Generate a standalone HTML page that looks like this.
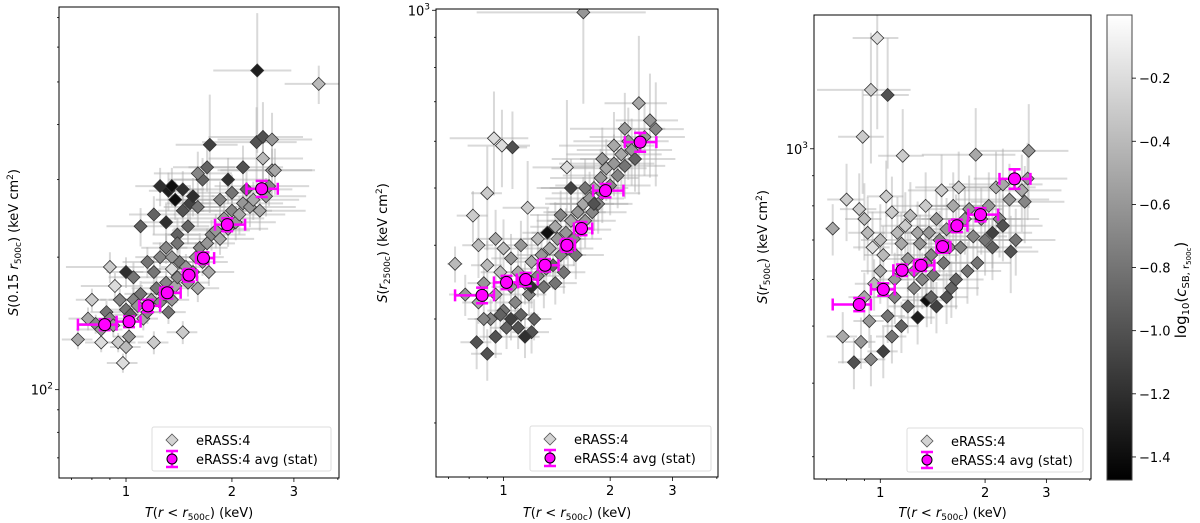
<!DOCTYPE html>
<html><head><meta charset="utf-8"><style>
html,body{margin:0;padding:0;background:#fff}
svg{display:block;font-family:"DejaVu Sans","Liberation Sans",sans-serif}
</style></head><body>
<svg id="chart" width="1200" height="523" viewBox="0 0 1200 523" xmlns="http://www.w3.org/2000/svg"></svg>
<script>
// ---- data ----
const binT = [0.87,1.02,1.155,1.31,1.51,1.66,1.94,2.43];
const binTlo = [0.73,0.94,1.09,1.25,1.45,1.58,1.79,2.2];
const binThi = [0.94,1.10,1.25,1.43,1.59,1.78,2.18,2.7];
const avg1 = [140.5,142.7,155,166,182,199,237,286];
const avg1err = [4,4,5,5,6,6,8,12];
const avg2 = [329,346,350,370,400,427,495,598];
const avg2err = [10,9,9,9,10,11,13,22];
const avg3 = [544,577,622,634,682,740,773,889];
const avg3err = [14,14,14,14,16,18,20,34];
// scatter points: [T, S, log10 cSB, fractional xerr, fractional yerr]
const pts1 = [[0.73,130,-0.5,.1,.05],[0.78,145,-0.5,.12,.06],[0.82,141,-0.7,.1,.05],[0.85,137,-0.6,.15,.06],[0.88,150,-0.8,.1,.06],[0.9,145,-0.7,.12,.05],[0.92,140,-0.6,.1,.06],[0.95,128,-0.3,.12,.05],[0.98,115,-0.2,.1,.05],[1.0,125,-0.4,.1,.06],[1.02,132,-0.6,.1,.06],[0.85,128,-0.2,.1,.05],[0.8,160,-0.3,.1,.06],[0.93,172,-0.2,.2,.07],[0.96,160,-0.7,.12,.06],[1.0,152,-0.8,.1,.06],[1.03,148,-0.9,.1,.06],[1.05,160,-0.7,.15,.06],[1.08,155,-0.6,.12,.06],[1.1,165,-0.8,.1,.07],[1.12,145,-0.5,.1,.06],[1.15,150,-0.7,.12,.06],[1.18,160,-0.6,.15,.06],[1.2,128,-0.3,.1,.06],[1.22,170,-0.8,.15,.07],[1.25,158,-0.7,.12,.06],[1.28,165,-0.6,.12,.06],[1.3,175,-0.7,.15,.07],[1.32,150,-0.8,.12,.06],[1.35,160,-0.6,.12,.06],[1.38,172,-0.5,.15,.07],[1.4,180,-0.7,.15,.07],[1.45,135,-0.3,.1,.06],[1.42,195,-0.8,.18,.08],[1.48,190,-0.6,.15,.07],[1.5,175,-0.6,.15,.07],[1.55,185,-0.7,.15,.07],[1.58,200,-0.6,.2,.08],[1.6,170,-0.5,.15,.07],[1.62,210,-0.7,.2,.08],[1.65,195,-0.6,.18,.07],[1.7,215,-0.6,.2,.08],[1.72,185,-0.5,.18,.07],[1.75,225,-0.7,.25,.08],[1.8,230,-0.6,.25,.09],[1.85,220,-0.5,.25,.08],[1.9,245,-0.6,.3,.09],[1.95,232,-0.5,.3,.09],[2.0,255,-0.7,.3,.1],[2.05,240,-0.6,.3,.09],[2.1,250,-0.5,.35,.1],[2.15,265,-0.6,.3,.1],[2.2,285,-0.9,.35,.1],[2.25,260,-0.6,.35,.1],[2.3,270,-0.5,.35,.1],[2.4,255,-0.5,.35,.1],[2.5,275,-0.6,.3,.1],[2.55,290,-0.7,.3,.1],[2.6,315,-0.6,.3,.12],[2.45,335,-0.4,.3,.12],[2.65,315,-0.5,.3,.12],[1.2,250,-0.9,.15,.1],[1.25,290,-1.2,.15,.1],[1.32,283,-1.3,.12,.1],[1.38,270,-1.4,.12,.1],[1.35,290,-1.4,.12,.1],[1.45,285,-1.2,.15,.1],[1.52,265,-1.1,.15,.1],[1.55,275,-1.2,.15,.1],[1.3,240,-1.2,.15,.1],[1.1,235,-0.9,.2,.1],[1.45,255,-1.0,.15,.1],[1.4,225,-0.9,.15,.09],[1.5,235,-0.9,.15,.09],[1.6,260,-0.8,.2,.1],[1.65,300,-0.9,.2,.12],[1.7,320,-0.9,.2,.12],[1.6,310,-0.7,.25,.12],[1.85,270,-0.7,.25,.1],[2.0,280,-0.8,.3,.1],[2.15,320,-1.0,.3,.12],[1.95,300,-1.2,.3,.12],[1.73,360,-1.1,.2,.3],[2.36,531,-1.3,.25,.35],[3.53,495,-0.4,.2,.1],[2.35,365,-1.0,.3,.2],[2.45,375,-1.0,.3,.2],[2.6,370,-0.6,.3,.15],[1.0,185,-1.2,.12,.08],[0.9,190,-0.3,.25,.08],[1.05,180,-0.8,.15,.08],[1.15,195,-0.8,.15,.08],[1.25,200,-0.7,.15,.08],[1.2,185,-0.8,.15,.08],[1.3,210,-0.7,.15,.08],[1.35,200,-0.6,.15,.08],[1.4,215,-0.8,.15,.08],[1.35,188,-0.2,.15,.08]];
const pts2 = [[1.68,992,-0.6,.5,.3],[0.94,607,-0.2,.25,.2],[0.99,590,-0.2,.2,.15],[1.06,586,-1.0,.1,.15],[0.9,490,-0.3,.1,.2],[0.82,449,-0.3,.1,.1],[0.73,372,-0.4,.05,.07],[0.84,274,-1.0,.1,.1],[0.9,262,-1.0,.1,.1],[2.41,696,-0.5,.2,.3],[2.59,651,-0.6,.2,.2],[2.69,629,-0.7,.2,.2],[1.51,542,-0.2,.2,.3],[1.17,463,-0.3,.15,.2],[0.78,330,-0.6,.1,.08],[0.85,320,-0.5,.1,.08],[0.88,345,-0.6,.1,.08],[0.92,300,-0.7,.1,.08],[0.95,330,-0.5,.1,.08],[0.98,360,-0.4,.12,.1],[1.0,310,-0.8,.1,.08],[1.02,290,-0.9,.1,.08],[1.05,340,-0.6,.12,.08],[1.08,320,-0.7,.12,.08],[1.1,360,-0.5,.12,.1],[1.12,305,-0.9,.12,.08],[1.15,345,-0.6,.12,.08],[1.18,330,-0.7,.12,.08],[1.2,375,-0.5,.15,.1],[1.22,300,-0.9,.12,.08],[1.25,355,-0.7,.15,.08],[1.28,385,-0.6,.15,.1],[1.3,340,-0.8,.15,.08],[1.32,365,-0.7,.15,.08],[1.35,395,-0.5,.15,.1],[1.38,370,-0.9,.15,.09],[1.4,345,-0.8,.15,.08],[1.42,410,-0.6,.2,.1],[1.45,385,-0.7,.18,.09],[1.48,360,-0.8,.15,.08],[1.5,420,-0.6,.2,.1],[1.52,395,-0.7,.18,.09],[1.55,440,-0.5,.2,.1],[1.58,410,-0.7,.2,.1],[1.6,385,-0.8,.2,.09],[1.62,455,-0.6,.2,.1],[1.65,425,-0.7,.22,.1],[1.68,470,-0.5,.22,.11],[1.7,440,-0.6,.22,.1],[1.75,480,-0.6,.25,.11],[1.78,455,-0.7,.25,.1],[1.8,500,-0.5,.25,.12],[1.85,470,-0.7,.25,.11],[1.88,520,-0.6,.28,.12],[1.9,490,-0.7,.28,.11],[1.95,540,-0.5,.3,.12],[2.0,505,-0.7,.3,.11],[2.05,550,-0.6,.3,.12],[2.1,525,-0.7,.3,.12],[2.15,570,-0.5,.3,.13],[2.2,545,-0.8,.3,.12],[2.25,600,-0.6,.3,.14],[2.3,580,-0.6,.3,.13],[2.35,560,-0.9,.3,.12],[2.5,610,-0.6,.3,.14],[1.55,500,-1.1,.2,.12],[1.8,470,-1.0,.25,.1],[1.33,420,-1.4,.15,.1],[1.2,340,-1.2,.12,.08],[1.05,300,-1.1,.1,.08],[0.95,280,-1.0,.1,.08],[0.98,305,-0.9,.1,.08],[1.1,290,-1.0,.1,.08],[1.2,285,-1.0,.12,.08],[1.15,280,-1.2,.1,.08],[0.88,300,-0.7,.1,.08],[0.9,370,-0.4,.1,.1],[0.85,400,-0.4,.1,.12],[0.95,410,-0.5,.12,.12],[1.0,395,-0.4,.12,.12],[1.05,380,-0.6,.12,.1],[1.12,400,-0.6,.12,.1],[1.25,410,-0.4,.15,.1],[1.4,430,-0.5,.15,.1],[1.45,450,-0.7,.18,.1],[1.7,500,-0.8,.25,.12],[1.9,560,-0.6,.28,.13],[2.05,590,-0.5,.3,.14],[2.2,630,-0.6,.3,.15]];
const pts3 = [[0.98,1542,-0.2,.15,.3],[0.94,1259,-0.3,.3,.25],[1.05,1234,-1.0,.15,.25],[0.89,1048,-0.3,.15,.2],[0.73,732,-0.5,.05,.1],[1.16,973,-0.3,.15,.2],[1.88,977,-0.5,.3,.2],[2.67,992,-0.6,.3,.2],[0.84,434,-1.0,.1,.1],[0.94,439,-0.7,.1,.1],[1.02,453,-1.1,.1,.1],[1.36,553,-1.4,.15,.1],[1.28,517,-1.3,.12,.1],[2.37,669,-1.0,.2,.15],[2.6,813,-0.7,.3,.15],[0.8,820,-0.3,.12,.15],[0.87,790,-0.3,.12,.15],[0.9,760,-0.4,.12,.15],[0.92,720,-0.4,.12,.15],[0.95,680,-0.2,.12,.15],[1.0,700,-0.4,.12,.15],[1.02,660,-0.4,.12,.12],[1.04,830,-0.3,.12,.15],[1.08,780,-0.3,.15,.15],[1.12,720,-0.4,.15,.15],[1.15,690,-0.5,.15,.13],[1.18,740,-0.3,.15,.14],[1.2,650,-0.6,.15,.12],[1.22,770,-0.4,.15,.14],[1.25,620,-0.6,.15,.12],[1.28,720,-0.5,.15,.13],[1.3,690,-0.6,.15,.12],[1.32,600,-0.7,.15,.11],[1.35,800,-0.3,.2,.14],[1.38,720,-0.6,.2,.13],[1.4,660,-0.7,.2,.12],[1.42,610,-0.8,.2,.11],[1.45,760,-0.6,.2,.13],[1.48,700,-0.7,.2,.12],[1.5,850,-0.3,.2,.15],[1.52,640,-0.8,.2,.11],[1.55,730,-0.6,.2,.13],[1.58,680,-0.7,.2,.12],[1.6,580,-0.9,.2,.11],[1.62,800,-0.5,.22,.14],[1.65,740,-0.7,.22,.13],[1.68,860,-0.3,.25,.15],[1.7,680,-0.7,.22,.12],[1.75,760,-0.6,.25,.13],[1.78,620,-0.8,.25,.12],[1.8,790,-0.6,.25,.14],[1.85,710,-0.7,.25,.13],[1.9,640,-0.8,.25,.12],[1.95,760,-0.6,.3,.13],[2.0,700,-0.8,.3,.13],[2.05,800,-0.6,.3,.14],[2.1,680,-0.9,.3,.12],[2.15,860,-0.5,.3,.15],[2.2,760,-0.7,.3,.14],[2.25,870,-0.5,.3,.15],[2.35,820,-0.6,.3,.15],[2.45,700,-0.8,.3,.13],[2.55,850,-0.5,.3,.15],[2.65,890,-0.6,.3,.15],[1.1,560,-0.7,.12,.1],[1.15,500,-0.9,.12,.1],[1.2,540,-0.9,.12,.1],[1.05,520,-0.8,.12,.1],[0.9,560,-0.5,.1,.1],[0.96,590,-0.4,.12,.1],[1.0,620,-0.5,.12,.12],[1.1,600,-0.6,.12,.11],[1.4,560,-0.9,.15,.1],[1.45,540,-1.1,.15,.1],[1.55,560,-1.0,.15,.1],[1.65,600,-0.9,.2,.11],[1.25,580,-0.7,.15,.11],[1.35,640,-0.6,.15,.12],[0.78,480,-0.5,.1,.1],[0.88,470,-0.6,.1,.1],[0.93,510,-0.6,.1,.1],[1.08,480,-0.8,.1,.1],[2.25,740,-1.0,.3,.13],[2.1,720,-1.1,.3,.13]];
const cbTicks = [-0.2,-0.4,-0.6,-0.8,-1.0,-1.2,-1.4];

// ---- helpers ----
const NS='http://www.w3.org/2000/svg';
const svg=document.getElementById('chart');
function mk(tag,attrs,parent){const e=document.createElementNS(NS,tag);for(const k in attrs)e.setAttribute(k,attrs[k]);(parent||svg).appendChild(e);return e;}
const CMIN=-1.473,CMAX=0;
function gray(c){let t=(c-CMIN)/(CMAX-CMIN);t=Math.max(0,Math.min(1,t));const v=Math.round(t*255);return `rgb(${v},${v},${v})`;}

const panels=[
 {id:'p1',x0:59,x1:339,y0:7,y1:478,tmin:0.645,tmax:4.03,smin:63,smax:740,pts:pts1,avg:avg1,aerr:avg1err,
  ytitle:'S(0.15 r500c)',ytx:18,majorY:[100],leg:[152,427,179,44]},
 {id:'p2',x0:436,x1:718,y0:9,y1:477,tmin:0.645,tmax:4.03,smin:162,smax:1005,pts:pts2,avg:avg2,aerr:avg2err,
  ytitle:'S(r2500c)',ytx:387,majorY:[1000],leg:[530,426,181,45]},
 {id:'p3',x0:814,x1:1091,y0:15,y1:479,tmin:0.645,tmax:4.03,smin:275,smax:1687,pts:pts3,avg:avg3,aerr:avg3err,
  ytitle:'S(r500c)',ytx:767,majorY:[1000],leg:[907,428,176,44]}
];

panels.forEach((P,pi)=>{
  const g=mk('g',{});
  
  
  const lx=Math.log10;
  const X=t=>P.x0+(lx(t)-lx(P.tmin))/(lx(P.tmax)-lx(P.tmin))*(P.x1-P.x0);
  const Y=s=>P.y1-(lx(s)-lx(P.smin))/(lx(P.smax)-lx(P.smin))*(P.y1-P.y0);
  const clip=mk('clipPath',{id:'clip'+pi},g);
  mk('rect',{x:P.x0,y:P.y0,width:P.x1-P.x0,height:P.y1-P.y0},clip);
  const data=mk('g',{'clip-path':`url(#clip${pi})`},g);
  // error bars
  const eg=mk('g',{stroke:'rgb(170,170,170)','stroke-opacity':0.45,'stroke-width':2},data);
  
  
  P.pts.forEach(p=>{
    const cx=X(p[0]),cy=Y(p[1]);
    mk('line',{x1:X(p[0]*(1-p[3])),x2:X(p[0]*(1+p[3])),y1:cy,y2:cy},eg);
    mk('line',{x1:cx,x2:cx,y1:Y(p[1]*(1-p[4])),y2:Y(p[1]*(1+p[4]))},eg);
  });
  // diamonds
  P.pts.forEach(p=>{
    const cx=X(p[0]),cy=Y(p[1]),r=6.5;
    const d=mk('polygon',{points:`${cx},${cy-r} ${cx+r},${cy} ${cx},${cy+r} ${cx-r},${cy}`,fill:gray(p[2]),stroke:'#333','stroke-width':0.8},data);
    
    
  });
  // averages
  binT.forEach((t,i)=>{
    const s=P.avg[i],e=P.aerr[i];
    const cx=X(t),cy=Y(s);
    const ag=mk('g',{stroke:'#ff00ff','stroke-width':2.5},data);
    
    
    const xl=X(binTlo[i]),xh=X(binThi[i]),yl=Y(s-e),yh=Y(s+e);
    mk('line',{x1:xl,x2:xh,y1:cy,y2:cy},ag);
    mk('line',{x1:xl,x2:xl,y1:cy-6,y2:cy+6},ag);
    mk('line',{x1:xh,x2:xh,y1:cy-6,y2:cy+6},ag);
    mk('line',{x1:cx,x2:cx,y1:yl,y2:yh},ag);
    mk('line',{x1:cx-6,x2:cx+6,y1:yl,y2:yl},ag);
    mk('line',{x1:cx-6,x2:cx+6,y1:yh,y2:yh},ag);
    mk('circle',{cx:cx,cy:cy,r:6,fill:'#ff00ff',stroke:'#000','stroke-width':1},ag);
  });
  // axes frame
  const fr=mk('rect',{x:P.x0,y:P.y0,width:P.x1-P.x0,height:P.y1-P.y0,fill:'none',stroke:'#000','stroke-width':1},g);
  
  
  // x ticks
  [0.7,0.8,0.9,1,2,3,4].forEach(t=>{
    const x=X(t); if(x<P.x0||x>P.x1) return;
    const major=[1,2,3].includes(t);
    mk('line',{x1:x,x2:x,y1:P.y1,y2:P.y1+(major?4:2),stroke:'#000','stroke-width':0.8},g);
    if(major){const tx=mk('text',{x:x,y:P.y1+18,'text-anchor':'middle','font-size':13},g);tx.textContent=t;
      }
  });
  // y minor ticks
  for(let dec=10;dec<=1000;dec*=10){for(let m=1;m<10;m++){const s=m*dec;const y=Y(s);if(y<P.y0-0.5||y>P.y1)continue;
    const major=P.majorY.includes(s);
    mk('line',{x1:P.x0,x2:P.x0-(major?4:2),y1:y,y2:y,stroke:'#000','stroke-width':0.8},g);
    if(major){const tx=mk('text',{x:P.x0-6,y:y+5,'text-anchor':'end','font-size':13},g);
      
      tx.innerHTML=`10<tspan dy="-6" font-size="9">${Math.round(Math.log10(s))}</tspan>`;}
  }}
  // x title
  const xt=mk('text',{x:(P.x0+P.x1)/2,y:517,'text-anchor':'middle','font-size':13},g);
  
  xt.innerHTML='<tspan font-style="italic">T</tspan>(<tspan font-style="italic">r</tspan> &lt; <tspan font-style="italic">r</tspan><tspan font-size="9" dy="3">500c</tspan><tspan dy="-3">) (keV)</tspan>';
  // y title
  const cy=(P.y0+P.y1)/2;
  const yt=mk('text',{x:P.ytx,y:cy,'text-anchor':'middle','font-size':13,transform:`rotate(-90 ${P.ytx} ${cy})`},g);
  
  const sub={0:'<tspan font-style="italic">S</tspan>(0.15 <tspan font-style="italic">r</tspan><tspan font-size="9" dy="3">500c</tspan><tspan dy="-3">)</tspan>',
             1:'<tspan font-style="italic">S</tspan>(<tspan font-style="italic">r</tspan><tspan font-size="9" dy="3">2500c</tspan><tspan dy="-3">)</tspan>',
             2:'<tspan font-style="italic">S</tspan>(<tspan font-style="italic">r</tspan><tspan font-size="9" dy="3">500c</tspan><tspan dy="-3">)</tspan>'}[pi];
  yt.innerHTML=sub+' (keV cm<tspan font-size="9" dy="-5">2</tspan><tspan dy="5">)</tspan>';
  // legend
  const [lx0,ly0,lw,lh]=P.leg;
  const lg=mk('g',{},g);
  
  mk('rect',{x:lx0,y:ly0,width:lw,height:lh,fill:'#fff','fill-opacity':0.85,stroke:'#ddd',rx:2},lg);
  const mx=lx0+20,r1=ly0+13,r2=ly0+32;
  mk('polygon',{points:`${mx},${r1-6} ${mx+6},${r1} ${mx},${r1+6} ${mx-6},${r1}`,fill:'#d3d3d3',stroke:'#555','stroke-width':0.8},lg);
  const t1=mk('text',{x:lx0+44,y:r1+5,'font-size':13},lg);t1.textContent='eRASS:4';
  
  mk('line',{x1:mx,x2:mx,y1:r2-8,y2:r2+8,stroke:'#ff00ff','stroke-width':2.5},lg);
  mk('line',{x1:mx-6,x2:mx+6,y1:r2-8,y2:r2-8,stroke:'#ff00ff','stroke-width':2.5},lg);
  mk('line',{x1:mx-6,x2:mx+6,y1:r2+8,y2:r2+8,stroke:'#ff00ff','stroke-width':2.5},lg);
  mk('circle',{cx:mx,cy:r2,r:5,fill:'#ff00ff',stroke:'#000'},lg);
  const t2=mk('text',{x:lx0+44,y:r2+5,'font-size':13},lg);t2.textContent='eRASS:4 avg (stat)';
  
});

// colorbar
const cb={x:1107,w:25,y0:15,y1:480};
const defs=mk('defs',{});
const grad=mk('linearGradient',{id:'cbg',x1:0,y1:1,x2:0,y2:0},defs);
mk('stop',{offset:0,'stop-color':'#000'},grad);mk('stop',{offset:1,'stop-color':'#fff'},grad);
const cbr=mk('rect',{x:cb.x,y:cb.y0,width:cb.w,height:cb.y1-cb.y0,fill:'url(#cbg)',stroke:'#444','stroke-width':1});


const CY=c=>cb.y1-(c-CMIN)/(CMAX-CMIN)*(cb.y1-cb.y0);
cbTicks.forEach(c=>{const y=CY(c);
  mk('line',{x1:cb.x+cb.w,x2:cb.x+cb.w+4,y1:y,y2:y,stroke:'#000','stroke-width':0.8});
  const t=mk('text',{x:cb.x+cb.w+7,y:y+5,'font-size':13});t.textContent='\u2212'+Math.abs(c).toFixed(1);
  });
const cl=mk('text',{x:1186,y:290,'text-anchor':'middle','font-size':15,transform:'rotate(-90 1186 290)'});

cl.innerHTML='log<tspan font-size="10" dy="3">10</tspan><tspan dy="-3">(</tspan><tspan font-style="italic">c</tspan><tspan font-size="10" dy="3">SB, r</tspan><tspan font-size="7" dy="2">500c</tspan><tspan dy="-5">)</tspan>';
</script>
</body></html>
